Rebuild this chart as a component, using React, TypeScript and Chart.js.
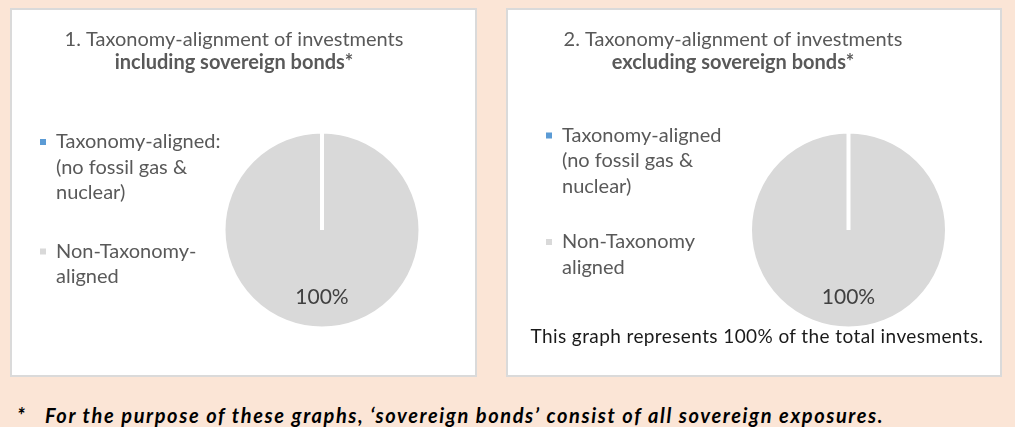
import React, { useEffect, useRef } from 'react';
import { Chart, registerables } from 'chart.js';

Chart.register(...registerables);

const FONT = 'Lato';

// ---- data ----
const TITLE_1 = '1. Taxonomy-alignment of investments';
const SUBTITLE_1 = 'including sovereign bonds*';
const TITLE_2 = '2. Taxonomy-alignment of investments';
const SUBTITLE_2 = 'excluding sovereign bonds*';
const CATEGORIES_1: string[][] = [
  ['Taxonomy-aligned:', '(no fossil gas &', 'nuclear)'],
  ['Non-Taxonomy-', 'aligned'],
];
const CATEGORIES_2: string[][] = [
  ['Taxonomy-aligned', '(no fossil gas &', 'nuclear)'],
  ['Non-Taxonomy', 'aligned'],
];
const VALUES_1 = [0, 100];
const VALUES_2 = [0, 100];
const SLICE_COLORS = ['#5B9BD5', '#D9D9D9'];
const NOTE_2 = 'This graph represents 100% of the total invesments.';
const FOOTNOTE = 'For the purpose of these graphs, \u2018sovereign bonds\u2019 consist of all sovereign exposures.';

type PieProps = {
  title: string;
  subtitle: string;
  categories: string[][];
  values: number[];
  left: number;
  top: number;
  width: number;
  height: number;
  pad: { left: number; right: number; top: number; bottom: number };
  titlePadTop: number;
  subPadTop: number;
  subPadBottom: number;
  legendPadding: number;
  legendWidth: number;
};

function PieChart(p: PieProps) {
  const ref = useRef<HTMLCanvasElement | null>(null);
  useEffect(() => {
    if (!ref.current) return;
    const legendWidthPlugin = {
      id: 'legendWidthFix',
      beforeLayout(chart: any) {
        const lg = chart.legend;
        if (lg && !lg._fixedFit) {
          const orig = lg.fit.bind(lg);
          lg.fit = function () {
            orig();
            this.width = p.legendWidth;
          };
          lg._fixedFit = true;
        }
      },
      afterLayout(chart: any) {
        // let the multi-line labels run past the reserved column without clipping
        const lg = chart.legend;
        if (lg) {
          lg.width = 400;
          lg.right = lg.left + 400;
        }
      },
    };
    const pctLabelPlugin = {
      id: 'pctLabels',
      afterDatasetsDraw(chart: any) {
        const ctx = chart.ctx;
        const vals = chart.data.datasets[0].data as number[];
        const total = vals.reduce((a, b) => a + b, 0);
        const meta = chart.getDatasetMeta(0);
        meta.data.forEach((el: any, i: number) => {
          const v = vals[i];
          if (!v) return;
          const { x, y, startAngle, endAngle, outerRadius } = el.getProps(
            ['x', 'y', 'startAngle', 'endAngle', 'outerRadius'],
            true
          );
          const mid = (startAngle + endAngle) / 2;
          const r = outerRadius * 0.68;
          ctx.save();
          ctx.font = `21px ${FONT}`;
          ctx.fillStyle = '#404040';
          ctx.textAlign = 'center';
          ctx.textBaseline = 'middle';
          ctx.fillText(Math.round((v / total) * 100) + '%', x + Math.cos(mid) * r, y + Math.sin(mid) * r);
          ctx.restore();
        });
      },
    };
    const chart = new Chart(ref.current, {
      type: 'pie',
      data: {
        labels: p.categories.map((c) => c.join(' ')),
        datasets: [
          {
            data: p.values,
            backgroundColor: SLICE_COLORS,
            borderColor: '#ffffff',
            borderWidth: 4,
          },
        ],
      },
      options: {
        responsive: false,
        animation: false,
        events: [],
        radius: 98.5,
        layout: { padding: p.pad },
        plugins: {
          tooltip: { enabled: false },
          title: {
            display: true,
            text: p.title,
            color: '#595959',
            font: { family: FONT, size: 20, weight: 'normal', lineHeight: 1.1 },
            padding: { top: p.titlePadTop, bottom: 0 },
          },
          subtitle: {
            display: true,
            text: p.subtitle,
            color: '#595959',
            font: { family: FONT, size: 20, weight: 'bold', lineHeight: 1.1 },
            padding: { top: p.subPadTop, bottom: p.subPadBottom },
          },
          legend: {
            display: true,
            position: 'left',
            align: 'start',
            fullSize: false,
            labels: {
              boxWidth: 6,
              boxHeight: 6,
              padding: p.legendPadding,
              color: '#595959',
              font: { family: FONT, size: 20, lineHeight: '25.5px' },
              generateLabels: () =>
                p.categories.map((text, i) => ({
                  text: text as any,
                  fillStyle: SLICE_COLORS[i],
                  strokeStyle: SLICE_COLORS[i],
                  lineWidth: 0,
                  hidden: false,
                  index: i,
                  fontColor: '#595959',
                })) as any,
            },
          },
        },
      } as any,
      plugins: [legendWidthPlugin, pctLabelPlugin],
    });
    return () => chart.destroy();
  }, []);
  return (
    <canvas
      ref={ref}
      width={p.width}
      height={p.height}
      style={{ position: 'absolute', left: p.left, top: p.top, width: p.width, height: p.height }}
    />
  );
}

export default function App() {
  const panel: React.CSSProperties = {
    position: 'absolute',
    top: 8,
    height: 369,
    boxSizing: 'border-box',
    background: '#ffffff',
    border: '2px solid #dadada',
  };
  const foot: React.CSSProperties = {
    position: 'absolute',
    top: 405,
    fontSize: 20,
    lineHeight: '20px',
    fontWeight: 'bold',
    fontStyle: 'italic',
    color: '#000',
    whiteSpace: 'nowrap',
  };
  return (
    <div
      style={{
        position: 'fixed',
        left: 0,
        top: 0,
        width: 1015,
        height: 427,
        background: '#FBE5D6',
        overflow: 'hidden',
        fontFamily: `${FONT}, sans-serif`,
      }}
    >
      <div style={{ ...panel, left: 10, width: 467 }} />
      <div style={{ ...panel, left: 506, width: 496 }} />
      <PieChart
        title={TITLE_1}
        subtitle={SUBTITLE_1}
        categories={CATEGORIES_1}
        values={VALUES_1}
        left={0}
        top={0}
        width={477}
        height={376}
        pad={{ left: 7, right: 16, top: 0, bottom: 15 }}
        titlePadTop={29}
        subPadTop={1}
        subPadBottom={25}
        legendPadding={33}
        legendWidth={176}
      />
      <PieChart
        title={TITLE_2}
        subtitle={SUBTITLE_2}
        categories={CATEGORIES_2}
        values={VALUES_2}
        left={500}
        top={0}
        width={503}
        height={376}
        pad={{ left: 16, right: 53, top: 0, bottom: 11.5 }}
        titlePadTop={29}
        subPadTop={1}
        subPadBottom={21.5}
        legendPadding={30}
        legendWidth={231}
      />
      <div
        style={{
          position: 'absolute',
          left: 507,
          width: 500,
          top: 326,
          textAlign: 'center',
          fontSize: 19,
          letterSpacing: '0.4px',
          lineHeight: '20px',
          color: '#1a1a1a',
          whiteSpace: 'nowrap',
        }}
      >
        {NOTE_2}
      </div>
      <div style={{ ...foot, left: 17 }}>*</div>
      <div style={{ ...foot, left: 45, letterSpacing: '1.6px' }}>{FOOTNOTE}</div>
    </div>
  );
}
